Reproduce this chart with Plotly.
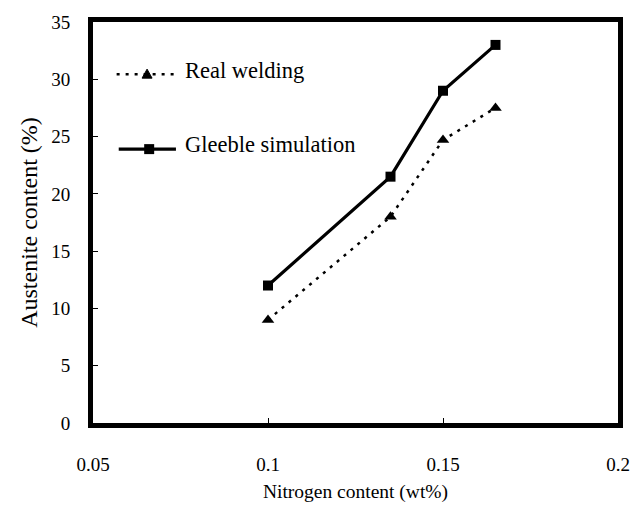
import plotly.graph_objects as go

# Nitrogen content (wt%) and austenite content (%)
nitrogen = [0.10, 0.135, 0.15, 0.165]
real_welding = [9.0, 18.0, 24.7, 27.5]
gleeble_sim = [12.0, 21.5, 29.0, 33.0]

x_ticks = [0.05, 0.1, 0.15, 0.2]
x_tick_text = ["0.05", "0.1", "0.15", "0.2"]
y_ticks = [0, 5, 10, 15, 20, 25, 30, 35]

FONT = "Liberation Serif, Times New Roman, serif"

fig = go.Figure()
fig.add_trace(go.Scatter(
    x=nitrogen, y=real_welding, mode="lines+markers", name="Real welding",
    line=dict(color="black", width=2.5, dash="3px,6px"),
    marker=dict(symbol="triangle-up", size=11, color="black"),
    showlegend=False,
))
fig.add_trace(go.Scatter(
    x=nitrogen, y=gleeble_sim, mode="lines+markers", name="Gleeble simulation",
    line=dict(color="black", width=3.2),
    marker=dict(symbol="square", size=10, color="black"),
    showlegend=False,
))

# Hand-drawn legend inside the plot area
shapes = [
    dict(type="line", xref="paper", yref="paper", x0=0.045, x1=0.160, y0=0.870, y1=0.870,
         line=dict(color="black", width=2.5, dash="3px,6px")),
    dict(type="path", xref="paper", yref="paper", xsizemode="pixel", ysizemode="pixel",
         xanchor=0.103, yanchor=0.870, path="M -5,-4 L 5,-4 L 0,5 Z",
         fillcolor="black", line=dict(color="black", width=1)),
    dict(type="line", xref="paper", yref="paper", x0=0.049, x1=0.158, y0=0.683, y1=0.683,
         line=dict(color="black", width=3.2)),
    dict(type="rect", xref="paper", yref="paper", xsizemode="pixel", ysizemode="pixel",
         xanchor=0.107, yanchor=0.683, x0=-5, x1=5, y0=-5, y1=5,
         fillcolor="black", line=dict(color="black", width=0)),
]
annotations = [
    dict(text="Real welding", xref="paper", yref="paper", x=0.172, y=0.879,
         xanchor="left", yanchor="middle", showarrow=False,
         font=dict(family=FONT, size=22.5, color="black")),
    dict(text="Gleeble simulation", xref="paper", yref="paper", x=0.172, y=0.694,
         xanchor="left", yanchor="middle", showarrow=False,
         font=dict(family=FONT, size=22.5, color="black")),
]

fig.update_layout(
    width=642, height=512,
    margin=dict(l=93, r=15, t=18, b=88),
    paper_bgcolor="white", plot_bgcolor="white",
    font=dict(family=FONT, size=19, color="black"),
    shapes=shapes, annotations=annotations,
)
fig.update_xaxes(
    range=[0.05, 0.2], tickvals=x_ticks, ticktext=x_tick_text,
    ticks="inside", ticklen=5, tickwidth=1, tickcolor="black",
    showline=True, linecolor="black", linewidth=5, mirror=True,
    showgrid=False, zeroline=False, ticklabelstandoff=20,
    title=dict(text="Nitrogen content (wt%)", font=dict(family=FONT, size=19.5), standoff=12),
)
fig.update_yaxes(
    range=[0, 35], tickvals=y_ticks,
    ticks="inside", ticklen=5, tickwidth=1, tickcolor="black",
    showline=True, linecolor="black", linewidth=5, mirror=True,
    showgrid=False, zeroline=False, ticklabelstandoff=14,
    title=dict(text="Austenite content (%)", font=dict(family=FONT, size=24), standoff=8),
)

fig.write_html("out.html")
